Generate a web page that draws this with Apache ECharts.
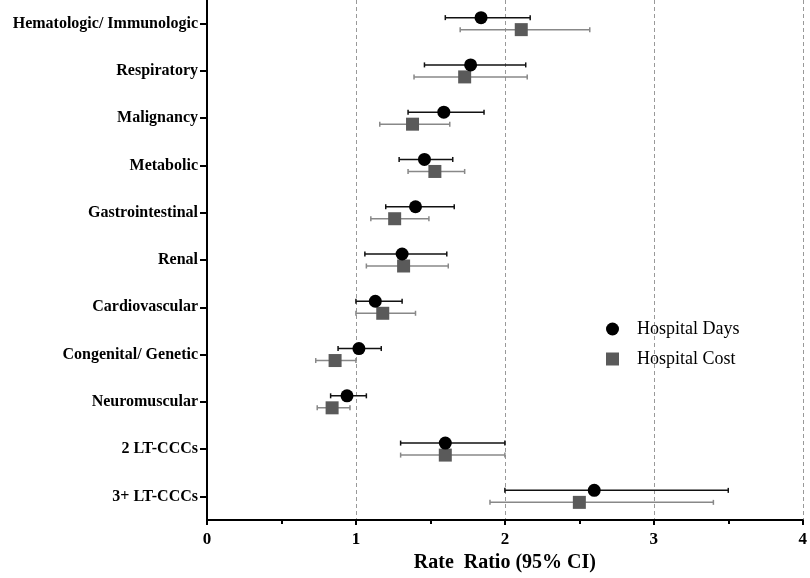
<!DOCTYPE html>
<html>
<head>
<meta charset="utf-8">
<script src="https://cdn.jsdelivr.net/npm/echarts@6/dist/echarts.min.js"></script>
<style>html,body{margin:0;padding:0;background:#fff}#c{width:810px;height:578px}</style>
</head>
<body>
<div id="c"></div>
<script>
const categories = ['Hematologic/ Immunologic','Respiratory','Malignancy','Metabolic','Gastrointestinal','Renal','Cardiovascular','Congenital/ Genetic','Neuromuscular','2 LT-CCCs','3+ LT-CCCs'];
const daysRR   = [1.84, 1.77, 1.59, 1.46, 1.40, 1.31, 1.13, 1.02, 0.94, 1.60, 2.60];
const daysLow  = [1.60, 1.46, 1.35, 1.29, 1.20, 1.06, 1.00, 0.88, 0.83, 1.30, 2.00];
const daysHigh = [2.17, 2.14, 1.86, 1.65, 1.66, 1.61, 1.31, 1.17, 1.07, 2.00, 3.50];
const costRR   = [2.11, 1.73, 1.38, 1.53, 1.26, 1.32, 1.18, 0.86, 0.84, 1.60, 2.50];
const costLow  = [1.70, 1.39, 1.16, 1.35, 1.10, 1.07, 1.00, 0.73, 0.74, 1.30, 1.90];
const costHigh = [2.57, 2.15, 1.63, 1.73, 1.49, 1.62, 1.40, 1.00, 0.96, 2.00, 3.40];
const xTicks = [0, 1, 2, 3, 4];
const seriesNames = ['Hospital Days', 'Hospital Cost'];

const FONT = 'Liberation Serif';
const chart = echarts.init(document.getElementById('c'));

function errBar(color, dy) {
  return function (params, api) {
    const y = api.value(2);
    const p1 = api.coord([api.value(0), y]);
    const p2 = api.coord([api.value(1), y]);
    const yy = p1[1] + dy;
    const cap = 2.5;
    const st = { stroke: color, lineWidth: 1.5 };
    return { type: 'group', children: [
      { type: 'line', shape: { x1: p1[0], y1: yy, x2: p2[0], y2: yy }, style: st },
      { type: 'line', shape: { x1: p1[0], y1: yy - cap, x2: p1[0], y2: yy + cap }, style: st },
      { type: 'line', shape: { x1: p2[0], y1: yy - cap, x2: p2[0], y2: yy + cap }, style: st }
    ]};
  };
}

const daysErr = categories.map((c, i) => [daysLow[i], daysHigh[i], i]);
const costErr = categories.map((c, i) => [costLow[i], costHigh[i], i]);

chart.setOption({
  animation: false,
  backgroundColor: '#fff',
  grid: { left: 207, right: 4, top: 0, bottom: 52, containLabel: false },
  legend: {
    data: [{ name: seriesNames[0], icon: 'circle' }, { name: seriesNames[1], icon: 'rect' }],
    orient: 'vertical', left: 601, top: 315, itemWidth: 13, itemHeight: 13, itemGap: 12,
    textStyle: { fontFamily: FONT, fontSize: 18, color: '#000', padding: [0, 0, 0, 13] }
  },
  xAxis: {
    type: 'value', min: 0, max: 4, interval: 1,
    axisLine: { show: true, lineStyle: { color: '#000', width: 2 } },
    axisTick: { show: true, length: 5, lineStyle: { color: '#000', width: 2 } },
    minorTick: { show: true, splitNumber: 2, length: 4, lineStyle: { color: '#000', width: 2 } },
    axisLabel: { fontFamily: FONT, fontWeight: 'bold', fontSize: 17, color: '#000', margin: 11,
      formatter: v => (xTicks.indexOf(v) >= 0 ? String(v) : '') },
    splitLine: { show: true, lineStyle: { color: '#999', type: [4, 3], width: 1 } },
    name: 'Rate  Ratio (95% CI)', nameLocation: 'middle', nameGap: 33,
    nameTextStyle: { fontFamily: FONT, fontWeight: 'bold', fontSize: 20, color: '#000' }
  },
  yAxis: {
    type: 'category', inverse: true, data: categories, boundaryGap: true,
    axisLine: { show: true, lineStyle: { color: '#000', width: 2 } },
    axisTick: { show: true, alignWithLabel: true, length: 7, lineStyle: { color: '#000', width: 2 } },
    axisLabel: { fontFamily: FONT, fontWeight: 'bold', fontSize: 16, color: '#000', margin: 9 },
    splitLine: { show: false }
  },
  series: [
    { name: 'daysErr', type: 'custom', renderItem: errBar('#111', -6), data: daysErr, encode: { x: [0, 1], y: 2 }, z: 2 },
    { name: 'costErr', type: 'custom', renderItem: errBar('#888', 6), data: costErr, encode: { x: [0, 1], y: 2 }, z: 2 },
    { name: seriesNames[0], type: 'scatter', symbol: 'circle', symbolSize: 13, symbolOffset: [0, -6],
      itemStyle: { color: '#000', opacity: 1 }, data: categories.map((c, i) => [daysRR[i], i]), z: 4 },
    { name: seriesNames[1], type: 'scatter', symbol: 'rect', symbolSize: 13, symbolOffset: [0, 6],
      itemStyle: { color: '#5a5a5a', opacity: 1 }, data: categories.map((c, i) => [costRR[i], i]), z: 3 }
  ]
});
</script>
</body>
</html>
